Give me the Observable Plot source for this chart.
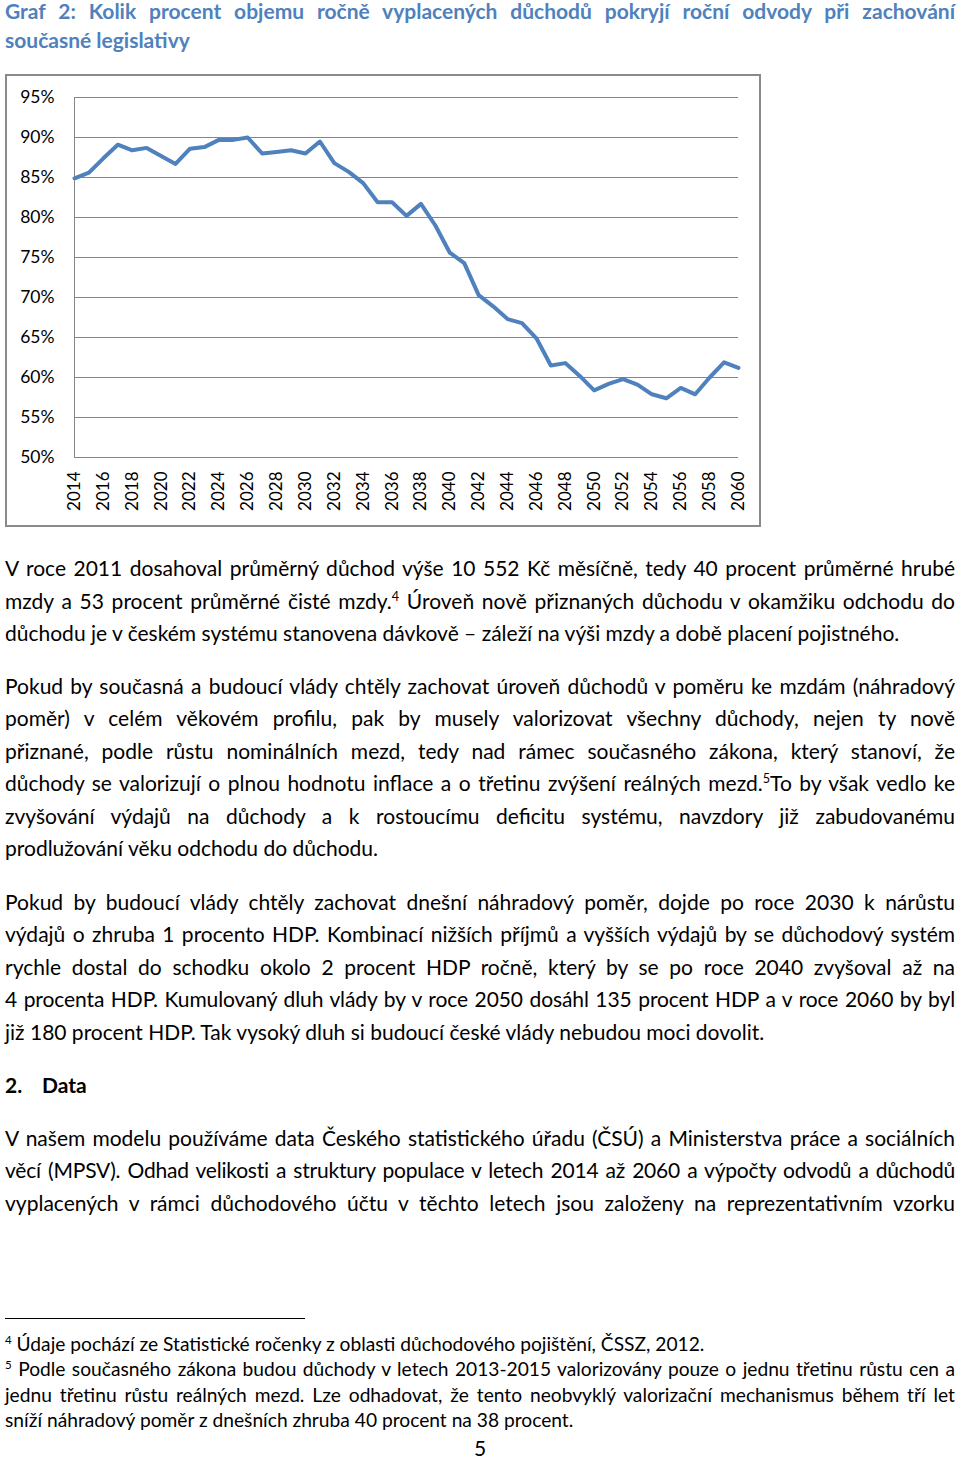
<!DOCTYPE html>
<html>
<head>
<meta charset="utf-8">
<script src="https://cdn.jsdelivr.net/npm/d3@7"></script>
<script src="https://cdn.jsdelivr.net/npm/@observablehq/plot@0.6"></script>
<style>
  html, body { margin: 0; padding: 0; background: #fff; }
  body { width: 960px; height: 1459px; position: relative; overflow: hidden; font-family: Lato, "Noto Sans", sans-serif; color: #000; }
  .ln { position: absolute; left: 5px; width: 950px; white-space: nowrap; font-size: 21px; line-height: 26px; height: 26px; }
  .j { text-align: justify; text-align-last: justify; white-space: normal; }
  .title { color: #4f81bd; font-weight: bold; font-size: 21px; }
  .fn { font-size: 19.2px; line-height: 22px; height: 22px; }
  sup { font-size: 0.6em; vertical-align: 0; position: relative; top: -0.6em; line-height: 0; }
  #frame { position: absolute; left: 5px; top: 74px; width: 756px; height: 453px; border: 2px solid #8a8a8a; box-sizing: border-box; }
  #chart { position: absolute; left: 5px; top: 74px; width: 756px; height: 453px; }
  #rule { position: absolute; left: 5px; top: 1318px; width: 300px; height: 0; border-top: 1px solid #000; }
</style>
</head>
<body>
<div class="ln j title" style="top:-2px">Graf 2: Kolik procent objemu ročně vyplacených důchodů pokryjí roční odvody při zachování</div>
<div class="ln title" style="top:27px">současné legislativy</div>

<div id="frame"></div>
<div id="chart"></div>

<div class="ln j" style="top:555px">V roce 2011 dosahoval průměrný důchod výše 10 552 Kč měsíčně, tedy 40 procent průměrné hrubé</div>
<div class="ln j" style="top:588px">mzdy a 53 procent průměrné čisté mzdy.<sup>4</sup> Úroveň nově přiznaných důchodu v okamžiku odchodu do</div>
<div class="ln" style="top:620px">důchodu je v českém systému stanovena dávkově – záleží na výši mzdy a době placení pojistného.</div>

<div class="ln j" style="top:673px">Pokud by současná a budoucí vlády chtěly zachovat úroveň důchodů v poměru ke mzdám (náhradový</div>
<div class="ln j" style="top:705px">poměr) v celém věkovém profilu, pak by musely valorizovat všechny důchody, nejen ty nově</div>
<div class="ln j" style="top:738px">přiznané, podle růstu nominálních mezd, tedy nad rámec současného zákona, který stanoví, že</div>
<div class="ln j" style="top:770px">důchody se valorizují o plnou hodnotu inflace a o třetinu zvýšení reálných mezd.<sup>5</sup>To by však vedlo ke</div>
<div class="ln j" style="top:803px">zvyšování výdajů na důchody a k rostoucímu deficitu systému, navzdory již zabudovanému</div>
<div class="ln" style="top:835px">prodlužování věku odchodu do důchodu.</div>

<div class="ln j" style="top:889px">Pokud by budoucí vlády chtěly zachovat dnešní náhradový poměr, dojde po roce 2030 k nárůstu</div>
<div class="ln j" style="top:921px">výdajů o zhruba 1 procento HDP. Kombinací nižších příjmů a vyšších výdajů by se důchodový systém</div>
<div class="ln j" style="top:954px">rychle dostal do schodku okolo 2 procent HDP ročně, který by se po roce 2040 zvyšoval až na</div>
<div class="ln j" style="top:986px;letter-spacing:-0.1px">4 procenta HDP. Kumulovaný dluh vlády by v roce 2050 dosáhl 135 procent HDP a v roce 2060 by byl</div>
<div class="ln" style="top:1019px">již 180 procent HDP. Tak vysoký dluh si budoucí české vlády nebudou moci dovolit.</div>

<div class="ln" style="top:1072px;font-weight:bold">2.<span style="position:absolute;left:37px">Data</span></div>

<div class="ln j" style="top:1125px">V našem modelu používáme data Českého statistického úřadu (ČSÚ) a Ministerstva práce a sociálních</div>
<div class="ln j" style="top:1157px;letter-spacing:-0.2px">věcí (MPSV). Odhad velikosti a struktury populace v letech 2014 až 2060 a výpočty odvodů a důchodů</div>
<div class="ln j" style="top:1190px">vyplacených v rámci důchodového účtu v těchto letech jsou založeny na reprezentativním vzorku</div>

<div id="rule"></div>
<div class="ln fn" style="top:1333px"><sup>4</sup> Údaje pochází ze Statistické ročenky z oblasti důchodového pojištění, ČSSZ, 2012.</div>
<div class="ln fn j" style="top:1358px"><sup>5</sup> Podle současného zákona budou důchody v letech 2013-2015 valorizovány pouze o jednu třetinu růstu cen a</div>
<div class="ln fn j" style="top:1384px">jednu třetinu růstu reálných mezd. Lze odhadovat, že tento neobvyklý valorizační mechanismus během tří let</div>
<div class="ln fn" style="top:1409px">sníží náhradový poměr z dnešních zhruba 40 procent na 38 procent.</div>
<div class="ln" style="top:1435px;text-align:center;width:950px">5</div>

<script>
const years = [2014,2015,2016,2017,2018,2019,2020,2021,2022,2023,2024,2025,2026,2027,2028,2029,2030,2031,2032,2033,2034,2035,2036,2037,2038,2039,2040,2041,2042,2043,2044,2045,2046,2047,2048,2049,2050,2051,2052,2053,2054,2055,2056,2057,2058,2059,2060];
const values = [84.9,85.6,87.4,89.1,88.4,88.7,87.7,86.7,88.6,88.8,89.7,89.7,90.0,88.0,88.2,88.4,88.0,89.5,86.8,85.7,84.3,81.9,81.9,80.2,81.7,79.0,75.6,74.3,70.3,68.9,67.3,66.8,64.9,61.5,61.8,60.2,58.4,59.2,59.8,59.1,57.9,57.4,58.7,57.9,60.0,61.9,61.2];
const xTicks = [2014,2016,2018,2020,2022,2024,2026,2028,2030,2032,2034,2036,2038,2040,2042,2044,2046,2048,2050,2052,2054,2056,2058,2060];
const yTicks = [50,55,60,65,70,75,80,85,90,95];

const data = years.map((year, i) => ({year, value: values[i]}));

const chart = Plot.plot({
  width: 756,
  height: 453,
  marginLeft: 69,
  marginRight: 23,
  marginTop: 23,
  marginBottom: 70,
  style: {fontFamily: "Lato, sans-serif", color: "#000", background: "transparent", overflow: "visible"},
  x: {domain: [2014, 2060]},
  y: {domain: [50, 95]},
  marks: [
    Plot.gridY(yTicks, {stroke: "#868686", strokeOpacity: 1, strokeWidth: 1}),
    Plot.ruleX([2014], {y1: 50, y2: 95, stroke: "#868686", strokeWidth: 1}),
    Plot.axisY(yTicks, {tickSize: 0, tickPadding: 20, tickFormat: d => d + "%", label: null, fontSize: 17.5}),
    Plot.axisX(xTicks, {tickSize: 0, tickPadding: 14, tickRotate: -90, tickFormat: d => String(d), label: null, fontSize: 17}),
    Plot.line(data, {x: "year", y: "value", stroke: "#4f81bd", strokeWidth: 4, strokeLinejoin: "round", strokeLinecap: "round"})
  ]
});
document.getElementById("chart").appendChild(chart);
</script>
</body>
</html>
